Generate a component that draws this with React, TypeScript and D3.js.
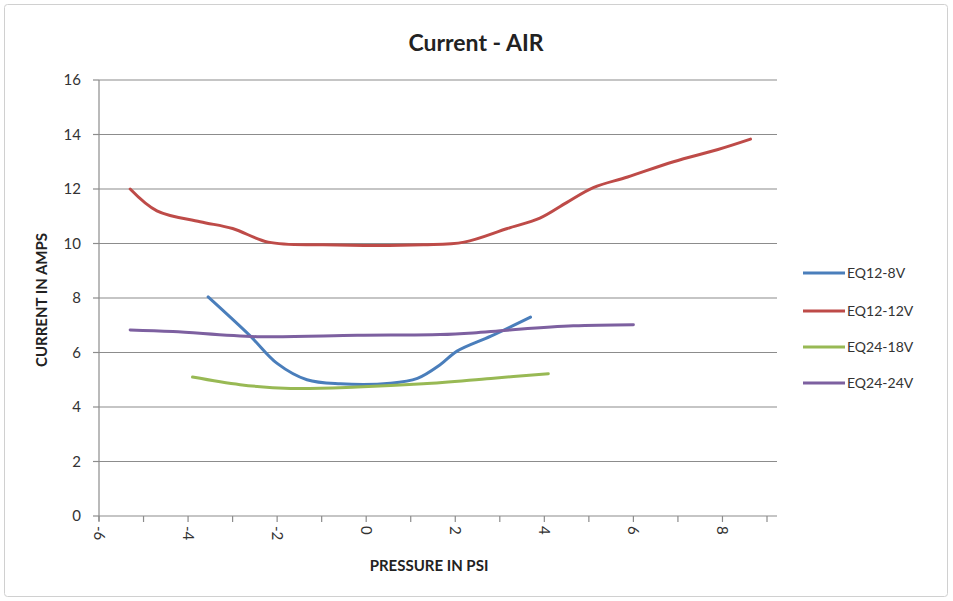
import React from "react";
import * as d3 from "d3";

const W = 953;
const H = 601;

const seriesNames = ["EQ12-8V", "EQ12-12V", "EQ24-18V", "EQ24-24V"];
const seriesColors = ["#4A7EBB", "#BE4B48", "#98B954", "#7D60A0"];

const eq12_8V: [number, number][] = [
  [-3.55, 8.04], [-2.6, 6.6], [-2.0, 5.6], [-1.33, 5.0], [-0.58, 4.85],
  [0.54, 4.87], [1.15, 5.05], [1.66, 5.55], [2.04, 6.05], [2.8, 6.6], [3.69, 7.3],
];
const eq12_12V: [number, number][] = [
  [-5.3, 12.0], [-4.7, 11.2], [-3.73, 10.8], [-3.0, 10.55], [-2.2, 10.05],
  [-0.97, 9.95], [1.28, 9.95], [2.2, 10.05], [3.17, 10.55], [3.9, 10.93],
  [4.5, 11.5], [5.1, 12.05], [5.87, 12.44], [6.9, 13.0], [7.9, 13.45], [8.63, 13.83],
];
const eq24_18V: [number, number][] = [
  [-3.9, 5.1], [-2.83, 4.82], [-1.7, 4.68], [-0.2, 4.73], [1.28, 4.85],
  [2.8, 5.05], [4.09, 5.22],
];
const eq24_24V: [number, number][] = [
  [-5.3, 6.83], [-4.34, 6.77], [-2.45, 6.58], [-0.2, 6.63], [1.66, 6.66],
  [2.4, 6.72], [3.17, 6.82], [4.65, 6.98], [6.0, 7.02],
];
const seriesData = [eq12_8V, eq12_12V, eq24_18V, eq24_24V];

const xTickLabels = [-6, -4, -2, 0, 2, 4, 6, 8];
const xMinorTicks = d3.range(-6, 10, 1);
const yTickLabels = [0, 2, 4, 6, 8, 10, 12, 14, 16];

const FONT = "Lato, 'Open Sans', sans-serif";

export default function App() {
  const x = d3.scaleLinear().domain([-6, 9]).range([99, 767]);
  const y = d3.scaleLinear().domain([0, 16]).range([516, 80]);
  const line = d3
    .line<[number, number]>()
    .x((d) => x(d[0]))
    .y((d) => y(d[1]))
    .curve(d3.curveCatmullRom.alpha(0.5));

  return (
    <svg
      width={W}
      height={H}
      style={{ position: "absolute", left: 0, top: 0, background: "#fff" }}
      fontFamily={FONT}
    >
      <rect x={4.5} y={4.5} width={943} height={592} rx={3} fill="#fff" stroke="#d0d0d0" />
      <text x={476} y={51} textAnchor="middle" fontSize={23} fontWeight="bold" fill="#222">
        Current - AIR
      </text>

      {/* gridlines */}
      {yTickLabels.map((v) => (
        <g key={v}>
          <line x1={x(-6)} x2={x(9) + 10} y1={y(v)} y2={y(v)} stroke="#8c8c8c" strokeWidth={1.2} />
          <line x1={x(-6) - 6} x2={x(-6)} y1={y(v)} y2={y(v)} stroke="#8c8c8c" strokeWidth={1.2} />
          <text x={81} y={y(v)} dy="0.35em" textAnchor="end" fontSize={15} fill="#333">
            {v}
          </text>
        </g>
      ))}

      {/* axes */}
      <line x1={x(-6)} x2={x(-6)} y1={y(16)} y2={y(0) + 5} stroke="#8c8c8c" strokeWidth={1.2} />
      {xMinorTicks.map((v) => (
        <line key={v} x1={x(v)} x2={x(v)} y1={y(0)} y2={y(0) + 6} stroke="#8c8c8c" strokeWidth={1.2} />
      ))}
      {xTickLabels.map((v) => (
        <text
          key={v}
          transform={`translate(${x(v) - 5},${y(0) + 10}) rotate(90)`}
          textAnchor="start"
          fontSize={15}
          fill="#333"
        >
          {v}
        </text>
      ))}

      <text x={429} y={571} textAnchor="middle" fontSize={15} fontWeight="bold" fill="#222">
        PRESSURE IN PSI
      </text>
      <text
        transform={`translate(47,${y(8) + 2}) rotate(-90)`}
        textAnchor="middle"
        fontSize={15}
        fontWeight="bold"
        fill="#222"
      >
        CURRENT IN AMPS
      </text>

      {/* series */}
      {seriesData.map((d, i) => (
        <path
          key={seriesNames[i]}
          d={line(d) || ""}
          fill="none"
          stroke={seriesColors[i]}
          strokeWidth={3}
          strokeLinecap="round"
        />
      ))}

      {/* legend */}
      {seriesNames.map((n, i) => {
        const ly = [273, 311, 347, 383][i];
        return (
          <g key={n}>
            <line x1={803} x2={845} y1={ly} y2={ly} stroke={seriesColors[i]} strokeWidth={3} />
            <text x={847} y={ly} dy="0.35em" fontSize={14} fill="#333">
              {n}
            </text>
          </g>
        );
      })}
    </svg>
  );
}
